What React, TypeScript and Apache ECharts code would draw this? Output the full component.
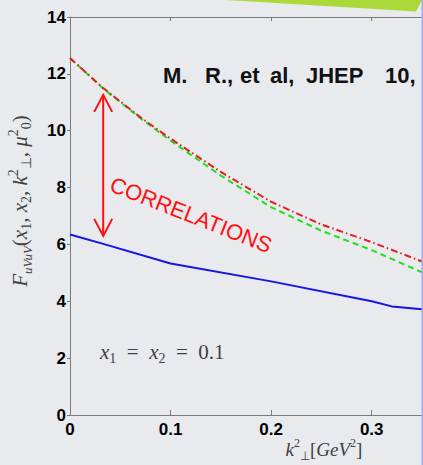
import React, { useEffect, useRef } from "react";
import * as echarts from "echarts";

const xTicks = [0, 0.1, 0.2, 0.3];
const yTicks = [0, 2, 4, 6, 8, 10, 12, 14];

// k_perp^2 values and F values for the three curves
const blueX = [0, 0.033, 0.1, 0.2, 0.3, 0.32, 0.35];
const blueY = [6.35, 6.02, 5.33, 4.7, 4.0, 3.82, 3.72];

const greenX = [0, 0.033, 0.07, 0.1, 0.15, 0.2, 0.25, 0.3, 0.35];
const greenY = [12.56, 11.48, 10.44, 9.65, 8.42, 7.31, 6.48, 5.8, 5.02];

const redX = [0, 0.033, 0.07, 0.1, 0.15, 0.2, 0.25, 0.3, 0.35];
const redY = [12.56, 11.5, 10.47, 9.72, 8.55, 7.5, 6.7, 6.08, 5.4];

// double arrow: x, top y, bottom y
const arrowX = [0.033];
const arrowTop = [11.26];
const arrowBottom = [6.3];

const titleWords = ["M.", "R.,", "et", "al,", "JHEP", "10,"];
const titleWordX = [163, 205, 240, 270, 306, 385];

const zip = (xs: number[], ys: number[]) => xs.map((x, i) => [x, ys[i]]);

const serif = "Liberation Serif";
const mathColor = "#404040";

const mathRich = (size: number) => ({
  i: { fontFamily: serif, fontStyle: "italic", fontSize: size, lineHeight: size + 6, fill: mathColor, color: mathColor, verticalAlign: "middle" },
  n: { fontFamily: serif, fontSize: size, lineHeight: size + 6, fill: mathColor, color: mathColor, verticalAlign: "middle" },
  s: { fontFamily: serif, fontSize: Math.round(size * 0.65), lineHeight: Math.round(size * 0.7), fill: mathColor, color: mathColor, verticalAlign: "bottom" },
  si: { fontFamily: serif, fontStyle: "italic", fontSize: Math.round(size * 0.6), lineHeight: Math.round(size * 0.7), fill: mathColor, color: mathColor, verticalAlign: "bottom" },
  p: { fontFamily: serif, fontSize: Math.round(size * 0.65), lineHeight: Math.round(size * 0.7), fill: mathColor, color: mathColor, verticalAlign: "top" },
});

export default function App() {
  const ref = useRef<HTMLDivElement>(null);
  useEffect(() => {
    if (!ref.current) return;
    const chart = echarts.init(ref.current, null, { renderer: "svg" });
    const axisLineStyle = { color: "#7a7a7a", width: 1 };
    const tickLabel = { fontFamily: "Liberation Sans", fontWeight: "bold" as const, fontSize: 17, color: "#000" };
    chart.setOption({
      animation: false,
      backgroundColor: "#e9eaee",
      grid: { left: 70, top: 17, right: 1, bottom: 50, containLabel: false },
      xAxis: [
        {
          type: "value",
          min: 0,
          max: 0.35,
          interval: 0.1,
          axisLine: { show: true, lineStyle: axisLineStyle },
          axisTick: { show: true, inside: true, length: 5, lineStyle: axisLineStyle },
          axisLabel: {
            ...tickLabel,
            margin: 6,
            showMaxLabel: false,
            hideOverlap: false,
            formatter: (v: number) => {
              const t = xTicks.find((x) => Math.abs(x - v) < 1e-6);
              return t === undefined ? "" : String(t);
            },
          },
          splitLine: { show: false },
        },
        {
          type: "value",
          position: "top",
          min: 0,
          max: 0.35,
          interval: 0.1,
          axisLine: { show: true, lineStyle: axisLineStyle },
          axisTick: { show: true, inside: true, length: 4, lineStyle: axisLineStyle },
          axisLabel: { show: false },
          splitLine: { show: false },
        },
      ],
      yAxis: {
        type: "value",
        min: 0,
        max: 14,
        interval: 2,
        axisLine: { show: true, lineStyle: axisLineStyle },
        axisTick: { show: true, inside: false, length: 3, lineStyle: axisLineStyle },
        axisLabel: {
          ...tickLabel,
          margin: 4,
          formatter: (v: number) => (yTicks.includes(v) ? String(v) : ""),
        },
        splitLine: { show: false },
      },
      series: [
        {
          type: "line",
          data: zip(greenX, greenY),
          showSymbol: false,
          lineStyle: { color: "#1ee01e", width: 2, type: [6, 4] },
          z: 3,
        },
        {
          type: "line",
          data: zip(redX, redY),
          showSymbol: false,
          lineStyle: { color: "#e02020", width: 2, type: [7, 3, 1.5, 3] },
          z: 4,
        },
        {
          type: "line",
          data: zip(blueX, blueY),
          showSymbol: false,
          lineStyle: { color: "#1414e6", width: 2 },
          z: 5,
        },
        {
          type: "custom",
          clip: false,
          silent: true,
          data: arrowX.map((x, i) => [x, arrowTop[i], arrowBottom[i]]),
          renderItem: (params: any, api: any) => {
            const t = api.coord([api.value(0), api.value(1)]);
            const b = api.coord([api.value(0), api.value(2)]);
            const style = { stroke: "#ff1010", lineWidth: 2, fill: "none" };
            return {
              type: "group",
              children: [
                { type: "line", shape: { x1: t[0], y1: t[1], x2: b[0], y2: b[1] }, style },
                { type: "polyline", shape: { points: [[t[0] - 9, t[1] + 17], [t[0], t[1]], [t[0] + 9, t[1] + 17]] }, style },
                { type: "polyline", shape: { points: [[b[0] - 9, b[1] - 17], [b[0], b[1]], [b[0] + 9, b[1] - 17]] }, style },
              ],
            };
          },
          z: 6,
        },
      ],
      graphic: [
        {
          type: "polygon",
          shape: { points: [[226, 0], [422, 0], [416, 11.5]] },
          style: { fill: "#acd93a" },
          z: 10,
        },
        {
          type: "rect",
          shape: { x: 421.5, y: 0, width: 1.5, height: 465 },
          style: { fill: "#a9a9e6" },
          z: 10,
        },
        ...titleWords.map((w, i) => ({
          type: "text",
          x: titleWordX[i],
          y: 75,
          style: {
            text: w,
            fontFamily: "Liberation Sans",
            fontWeight: "bold",
            fontSize: 22,
            fill: "#111",
            align: "left",
            verticalAlign: "middle",
          },
          z: 10,
        })),
        {
          type: "text",
          x: 191,
          y: 215,
          rotation: -0.375,
          style: {
            text: "CORRELATIONS",
            fontFamily: "Liberation Sans",
            fontSize: 22,
            fill: "#ff1010",
            align: "center",
            verticalAlign: "middle",
          },
          z: 10,
        },
        {
          type: "text",
          x: 100,
          y: 352,
          style: {
            text: "{i|x}{s|1}{n|  =  }{i|x}{s|2}{n|  =  0.1}",
            rich: mathRich(21),
            align: "left",
            verticalAlign: "middle",
          },
          z: 10,
        },
        {
          type: "text",
          x: 324,
          y: 449,
          style: {
            text: "{i|k}{p|2}{s|⊥}{n|[}{i|GeV}{p|2}{n|]}",
            rich: mathRich(19),
            align: "center",
            verticalAlign: "middle",
          },
          z: 10,
        },
        {
          type: "text",
          x: 20,
          y: 201,
          rotation: Math.PI / 2,
          style: {
            text: "{i|F}{si|uVuV}{n|(}{i|x}{s|1}{n|, }{i|x}{s|2}{n|, }{i|k}{p|2}{s|⊥}{n|, }{i|μ}{p|2}{s|0}{n|)}",
            rich: mathRich(21),
            align: "center",
            verticalAlign: "middle",
          },
          z: 10,
        },
      ],
    });
    return () => chart.dispose();
  }, []);
  return (
    <div
      ref={ref}
      style={{ position: "fixed", left: 0, top: 0, width: 423, height: 465 }}
    />
  );
}
